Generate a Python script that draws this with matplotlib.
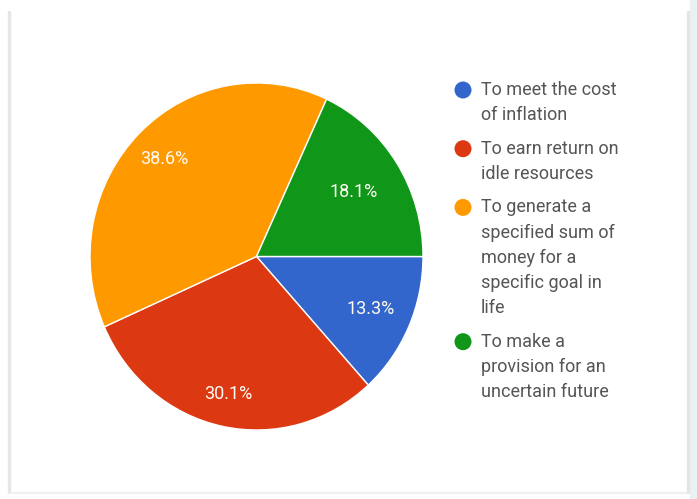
import numpy as np
import matplotlib
matplotlib.use("Agg")
import matplotlib.pyplot as plt
from matplotlib.patches import Circle, Rectangle

# Survey responses: reasons for investing
categories = [
    "To meet the cost\nof inflation",
    "To earn return on\nidle resources",
    "To generate a\nspecified sum of\nmoney for a\nspecific goal in\nlife",
    "To make a\nprovision for an\nuncertain future",
]
shares = [13.3, 30.1, 38.6, 18.1]
colors = ["#3366CC", "#DC3912", "#FF9900", "#109618"]

W, H = 697, 499
fig = plt.figure(figsize=(W / 100, H / 100), dpi=100)
fig.patch.set_facecolor("white")

# Overlay in pixel coordinates for the card edges and the legend
bg = fig.add_axes([0, 0, 1, 1])
bg.set_xlim(0, W)
bg.set_ylim(H, 0)
bg.axis("off")
bg.add_patch(Rectangle((690, 0), 7, H, facecolor="#eaf1f3", edgecolor="none"))
bg.plot([8.5, 8.5], [12, 492], color="#e6e6e6", lw=2.5, solid_capstyle="round")
bg.plot([687.5, 687.5], [12, 492], color="#e3e6e8", lw=2.5, solid_capstyle="round")
bg.plot([10, 686], [492.5, 492.5], color="#f0f0f0", lw=1.5)

# Pie
cx0, cy0, cx1, cy1 = 90, 83, 423, 430
ax = fig.add_axes([cx0 / W, 1 - cy1 / H, (cx1 - cx0) / W, (cy1 - cy0) / H])
wedges, texts, autotexts = ax.pie(
    shares, colors=colors, startangle=0, counterclock=False, radius=1,
    autopct="%.1f%%", pctdistance=0.76,
    wedgeprops=dict(edgecolor="white", linewidth=1),
    textprops=dict(color="#fffaf2", fontsize=13, family="Roboto"),
)
ax.set_aspect("auto")
ax.set_xlim(-1, 1)
ax.set_ylim(-1, 1)

# Place each percentage label along its wedge's bisector
label_dist = [0.75, 0.81, 0.79, 0.69]
for w, t, d in zip(wedges, autotexts, label_dist):
    mid = np.deg2rad((w.theta1 + w.theta2) / 2)
    t.set_position((d * np.cos(mid), d * np.sin(mid)))

# Legend drawn entry by entry, marker aligned with first line
line_h = 25.2
entry_gap = 33.5
y = 90
for label, col in zip(categories, colors):
    lines = label.split("\n")
    bg.add_patch(Circle((463, y), 8.5, facecolor=col, edgecolor="none"))
    for i, ln in enumerate(lines):
        bg.text(481, y + i * line_h, ln, fontsize=13, family="Roboto",
                color="#555555", va="center", ha="left")
    y += (len(lines) - 1) * line_h + entry_gap

fig.savefig("out.png", dpi=100, facecolor=fig.get_facecolor())
